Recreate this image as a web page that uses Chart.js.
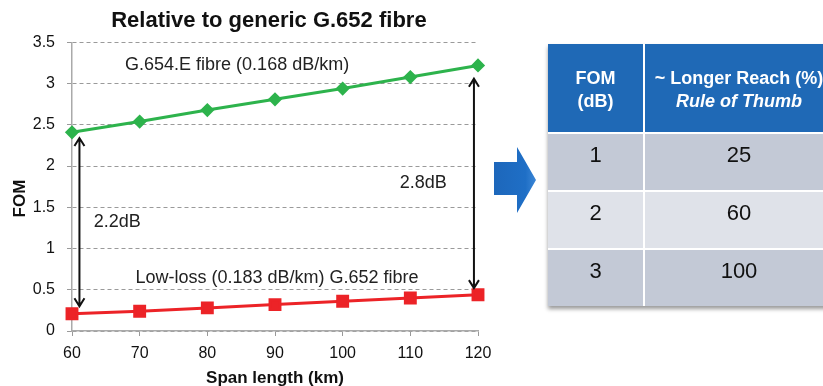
<!DOCTYPE html>
<html>
<head>
<meta charset="utf-8">
<script src="https://cdn.jsdelivr.net/npm/chart.js@4.4.1/dist/chart.umd.min.js"></script>
<style>
  html, body { margin: 0; padding: 0; background: #fff; width: 823px; height: 386px; overflow: hidden; font-family: "Liberation Sans", Arial, sans-serif; }
  #chart-box { position: absolute; left: 0; top: 0; width: 538px; height: 386px; }
  #arrow { position: absolute; left: 0; top: 0; z-index: 2; }
  #fom-table { position: absolute; left: 548px; top: 44px; width: 285px; z-index: 2; display: grid; grid-template-columns: 95px 188px; grid-template-rows: 88px 56px 56px 56px; gap: 2px; background: #fff; box-shadow: 0 3px 4px rgba(0,0,0,0.4); }
  #fom-table div { display: flex; justify-content: center; text-align: center; }
  #fom-table .head { background: #1f69b6; color: #fff; font-weight: bold; font-size: 18px; line-height: 23px; align-items: center; flex-direction: column; padding-top: 3px; box-sizing: border-box; }
  #fom-table .head i { font-style: italic; }
  #fom-table .cell { font-size: 22px; color: #111; padding-top: 8px; box-sizing: border-box; align-items: flex-start; }
  #fom-table .dark { background: #c3c9d6; }
  #fom-table .light { background: #dfe2e9; }
</style>
</head>
<body>
<div id="chart-box"><canvas id="chart"></canvas></div>
<svg id="arrow" width="823" height="386">
  <defs>
    <linearGradient id="ag" x1="0" y1="0" x2="1" y2="0">
      <stop offset="0" stop-color="#1d67bb"/>
      <stop offset="0.75" stop-color="#1f6fc6"/>
      <stop offset="1" stop-color="#3c86d6"/>
    </linearGradient>
  </defs>
  <polygon points="494,162 517,162 517,147 536,180 517,213 517,195 494,195" fill="url(#ag)"/>
</svg>
<div id="fom-table"></div>
<script>
// Données du graphique
const spanLength = [60, 70, 80, 90, 100, 110, 120];
const fomG654E = [2.41, 2.54, 2.68, 2.81, 2.94, 3.08, 3.22];
const fomLowLoss = [0.21, 0.24, 0.28, 0.32, 0.36, 0.40, 0.44];

// Flèches et textes (coordonnées des axes)
const gapArrows = [
    { x: 61.1, from: 0.30, to: 2.34 },
    { x: 119.4, from: 0.52, to: 3.06 }
];
const notes = [
    { text: "G.654.E fibre (0.168 dB/km)", x: 84.4, y: 3.22 },
    { text: "Low-loss (0.183 dB/km) G.652 fibre", x: 90.3, y: 0.64 },
    { text: "2.2dB", x: 66.7, y: 1.32 },
    { text: "2.8dB", x: 111.9, y: 1.80 }
];

// Tableau
const tableHead = [["FOM", "(dB)"], ["~ Longer Reach (%)", "Rule of Thumb"]];
const fomSteps = [1, 2, 3];
const longerReach = [25, 60, 100];

const FONT = '"Liberation Sans", Arial, sans-serif';

// Construit le tableau
const table = document.getElementById("fom-table");
table.innerHTML =
    `<div class="head"><span>${tableHead[0][0]}</span><span>${tableHead[0][1]}</span></div>` +
    `<div class="head"><span>${tableHead[1][0]}</span><i>${tableHead[1][1]}</i></div>` +
    fomSteps.map((f, i) => {
        const cls = i % 2 === 0 ? "dark" : "light";
        return `<div class="cell ${cls}">${f}</div><div class="cell ${cls}">${longerReach[i]}</div>`;
    }).join("");

// Flèches et étiquettes dans le graphique
const notesPlugin = {
    id: "notes",
    afterDatasetsDraw(chart) {
        const { ctx, scales: { x, y } } = chart;
        ctx.save();
        ctx.strokeStyle = "#111";
        ctx.lineWidth = 2;
        gapArrows.forEach(a => {
            const px = x.getPixelForValue(a.x);
            const y1 = y.getPixelForValue(a.from);
            const y2 = y.getPixelForValue(a.to);
            ctx.beginPath();
            ctx.moveTo(px, y1);
            ctx.lineTo(px, y2);
            ctx.moveTo(px - 5, y2 + 8);
            ctx.lineTo(px, y2);
            ctx.lineTo(px + 5, y2 + 8);
            ctx.moveTo(px - 5, y1 - 8);
            ctx.lineTo(px, y1);
            ctx.lineTo(px + 5, y1 - 8);
            ctx.stroke();
        });
        ctx.fillStyle = "#222";
        ctx.font = "18px " + FONT;
        ctx.textAlign = "center";
        ctx.textBaseline = "middle";
        notes.forEach(n => ctx.fillText(n.text, x.getPixelForValue(n.x), y.getPixelForValue(n.y)));
        ctx.restore();
    }
};

const ctx = document.getElementById("chart").getContext("2d");
const chart = new Chart(ctx, {
    type: "line",
    data: {
        datasets: [
            {
                label: "G.654.E",
                data: spanLength.map((s, i) => ({ x: s, y: fomG654E[i] })),
                borderColor: "#2db34c",
                backgroundColor: "#2db34c",
                borderWidth: 3,
                pointStyle: "rectRot",
                pointRadius: 5,
                tension: 0,
                clip: false
            },
            {
                label: "Low-loss G.652",
                data: spanLength.map((s, i) => ({ x: s, y: fomLowLoss[i] })),
                borderColor: "#ec2327",
                backgroundColor: "#ec2327",
                borderWidth: 3,
                pointStyle: "rect",
                pointRadius: 7,
                tension: 0,
                clip: false
            }
        ]
    },
    options: {
        responsive: true,
        maintainAspectRatio: false,
        animation: false,
        layout: { padding: { left: 0, right: 60, top: 0, bottom: 0 } },
        plugins: {
            legend: { display: false },
            tooltip: { enabled: false },
            title: {
                display: true,
                fullSize: false,
                text: "Relative to generic G.652 fibre  ",
                color: "#111",
                font: { family: FONT, size: 22, weight: "bold" },
                padding: { top: 8, bottom: 8 }
            }
        },
        scales: {
            x: {
                type: "linear",
                min: 60,
                max: 120,
                ticks: { stepSize: 10, color: "#111", font: { family: FONT, size: 16 }, padding: 8 },
                grid: { drawOnChartArea: false, drawTicks: true, tickLength: 5, color: "#999" },
                border: { color: "#aaa", width: 1.5 },
                title: { display: true, text: "Span length (km)", color: "#111", font: { family: FONT, size: 17, weight: "bold" }, padding: { top: 0, bottom: -3 } },
                afterFit(scale) { scale.height = 55; }
            },
            y: {
                min: 0,
                max: 3.5,
                ticks: { stepSize: 0.5, color: "#111", font: { family: FONT, size: 16 }, padding: 12, callback: v => String(v) },
                grid: { color: "#9a9a9a", lineWidth: 1, tickLength: 5 },
                border: { color: "#aaa", width: 1.5, dash: [4, 3] },
                title: { display: true, text: "FOM     ", color: "#111", font: { family: FONT, size: 17, weight: "bold" }, padding: { top: 10, bottom: 0 } },
                afterFit(scale) { scale.width = 72; }
            }
        }
    },
    plugins: [notesPlugin]
});
</script>
</body>
</html>
